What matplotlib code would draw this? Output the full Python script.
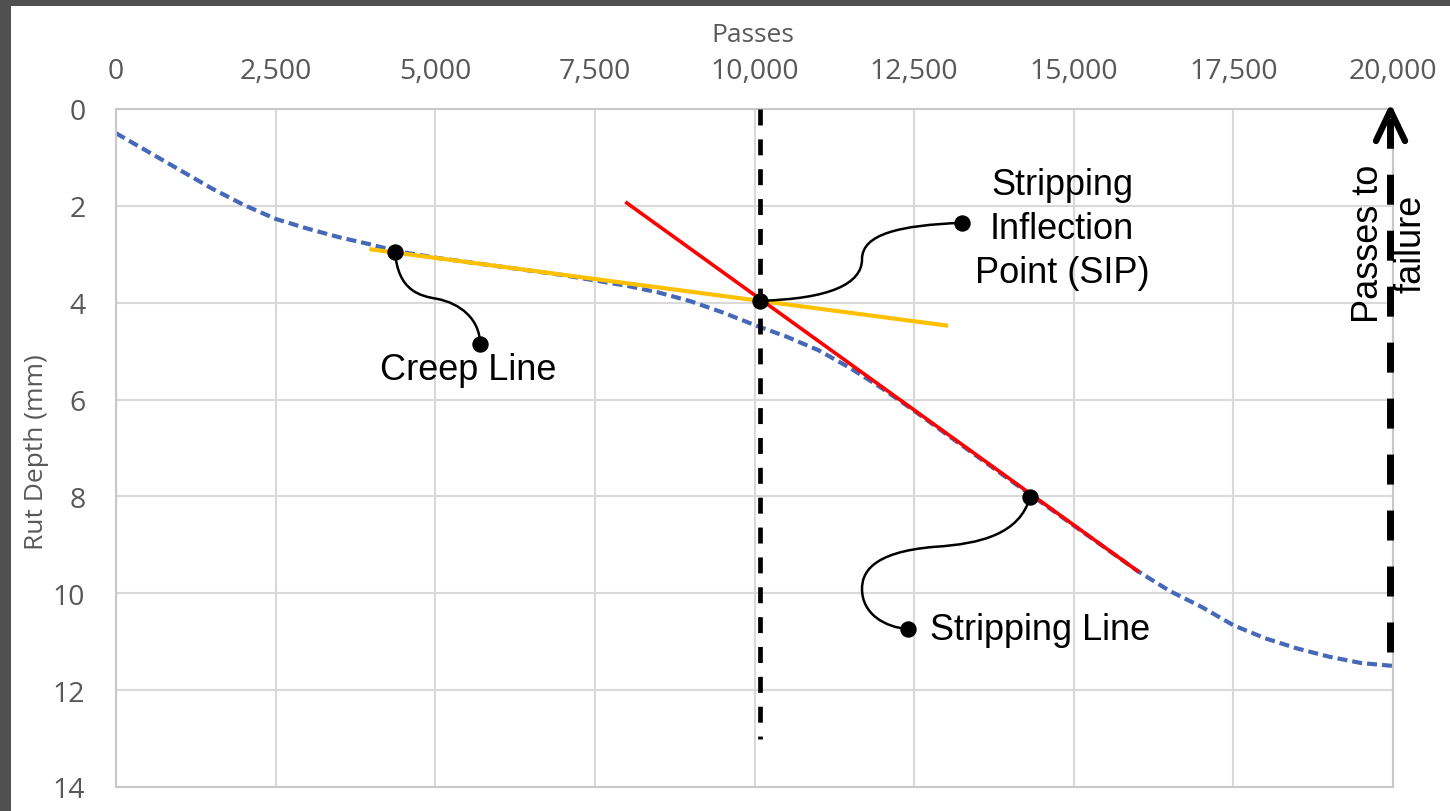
import matplotlib
matplotlib.use("Agg")
import matplotlib.pyplot as plt
from matplotlib.path import Path
from matplotlib.patches import PathPatch, Rectangle

plt.rcParams["lines.scale_dashes"] = False

# ---- data -------------------------------------------------------------
passes = [0, 500, 1000, 1500, 2000, 2500, 3000, 3500, 4000, 4370, 5000,
          6000, 7000, 8000, 8500, 9000, 9500, 10000, 10500, 11000, 11500,
          12000, 12500, 13000, 14000, 15000, 16000, 16500, 17000, 17500,
          18000, 18500, 19000, 19500, 20000]
rut_depth = [0.50, 0.88, 1.26, 1.64, 1.98, 2.27, 2.47, 2.65, 2.80, 2.93, 3.07,
             3.25, 3.43, 3.65, 3.79, 3.97, 4.20, 4.46, 4.70, 4.98, 5.35,
             5.77, 6.23, 6.71, 7.66, 8.60, 9.54, 9.95, 10.28, 10.66,
             10.93, 11.14, 11.31, 11.44, 11.50]

creep_x = [4000, 13000]
creep_y = [2.90, 4.47]
strip_x = [8000, 16000]
strip_y = [1.94, 9.54]

sip_passes = 10090
sip_depth = 3.96
failure_passes = 19960
failure_depth = 11.5

x_ticks = [0, 2500, 5000, 7500, 10000, 12500, 15000, 17500, 20000]
y_ticks = [0, 2, 4, 6, 8, 10, 12, 14]

TICK_GRAY = "#595959"
GRID_GRAY = "#d9d9d9"
ANNOT_FONT = "Liberation Sans"
AXIS_FONT = "Open Sans"

# ---- figure -----------------------------------------------------------
fig = plt.figure(figsize=(14.5, 8.12), dpi=100)
fig.patch.set_facecolor("white")
# dark frame along the top and left edges
fig.patches.append(Rectangle((0, 1 - 7 / 812), 1, 7 / 812, transform=fig.transFigure,
                             facecolor="#505050", edgecolor="none", zorder=10))
fig.patches.append(Rectangle((0, 0), 11 / 1450, 1, transform=fig.transFigure,
                             facecolor="#505050", edgecolor="none", zorder=10))

ax = fig.add_axes([116 / 1450, 1 - 788 / 812, 1277 / 1450, 678 / 812])
ax.set_xlim(0, 20000)
ax.set_ylim(14, 0)
ax.xaxis.tick_top()
ax.xaxis.set_label_position("top")
ax.set_xticks(x_ticks)
ax.set_xticklabels([f"{v:,}" for v in x_ticks])
ax.set_yticks(y_ticks)
ax.set_yticklabels([str(v) for v in y_ticks])
ax.tick_params(axis="x", length=0, pad=17, labelsize=20.5, labelcolor=TICK_GRAY)
ax.tick_params(axis="y", length=0, pad=22, labelsize=20.5, labelcolor=TICK_GRAY)
for lab in ax.get_xticklabels() + ax.get_yticklabels():
    lab.set_fontfamily(AXIS_FONT)
ax.grid(True, color=GRID_GRAY, lw=1.5)
ax.set_axisbelow(True)
for sp in ax.spines.values():
    sp.set_color("#c8c8c8")
    sp.set_linewidth(1.5)

ax.set_xlabel("Passes", fontsize=19, color=TICK_GRAY, fontfamily=AXIS_FONT)
ax.xaxis.set_label_coords(0.499, 1.1106)
ax.xaxis.label.set_va("center")
ax.set_ylabel("Rut Depth (mm)", fontsize=19, color=TICK_GRAY, fontfamily=AXIS_FONT)
ax.yaxis.set_label_coords(-0.0619, 0.495)
ax.yaxis.label.set_va("center")

# ---- series -----------------------------------------------------------
ax.plot(passes, rut_depth, color="#4668b8", lw=3.0, dashes=(7.2, 3.6), zorder=2)
ax.plot(creep_x, creep_y, color="#FFC000", lw=3.0, zorder=3)
ax.plot(strip_x, strip_y, color="#FF0000", lw=2.6, zorder=4)

# SIP vertical marker
ax.plot([sip_passes, sip_passes], [0, 13.0], color="black", lw=3.4,
        dashes=(11.5, 10), zorder=5, clip_on=False)

# passes-to-failure arrow
ax.plot([failure_passes, failure_passes], [11.21, 0.08], color="black", lw=5,
        dashes=(21.6, 18.7), zorder=5, clip_on=False)
ax.plot([19734, failure_passes, 20188], [0.66, 0.03, 0.66], color="black", lw=4.6,
        solid_capstyle="round", solid_joinstyle="round", zorder=5, clip_on=False)
ax.text(failure_passes - 10, 2.77, "Passes to\nfailure", rotation=90, ha="center",
        va="center", multialignment="center", fontsize=26, fontfamily=ANNOT_FONT,
        linespacing=1.3, zorder=4)

# ---- callouts ---------------------------------------------------------
def callout(verts):
    codes = [Path.MOVETO] + [Path.CURVE4] * (len(verts) - 1)
    ax.add_patch(PathPatch(Path(verts, codes), facecolor="none", edgecolor="black",
                           lw=1.8, zorder=6, clip_on=False))
    ax.plot([verts[0][0], verts[-1][0]], [verts[0][1], verts[-1][1]], "o",
            color="black", ms=10.8, zorder=7, clip_on=False)

callout([(4370, 2.95), (4417, 3.76), (4761, 3.86), (5027, 3.92),
         (5388, 4.01), (5701, 4.34), (5701, 4.85)])
ax.text(5513, 5.57, "Creep Line", ha="center", va="baseline", fontsize=26,
        fontfamily=ANNOT_FONT, zorder=6)

callout([(sip_passes, sip_depth), (11183, 3.92), (11684, 3.61), (11684, 3.10),
         (11684, 2.58), (12279, 2.40), (13250, 2.35)])
ax.text(14816, 3.57, "Stripping\nInflection\nPoint (SIP)", ha="center",
        va="baseline", multialignment="center", fontsize=26,
        fontfamily=ANNOT_FONT, linespacing=1.33, zorder=6)

callout([(14315, 8.01), (14158, 8.78), (13532, 8.98), (12827, 9.04),
         (11809, 9.15), (11684, 9.60), (11684, 9.91), (11684, 10.43),
         (12044, 10.70), (12404, 10.74)])
ax.text(12749, 10.94, "Stripping Line", ha="left", va="baseline", fontsize=26,
        fontfamily=ANNOT_FONT, zorder=6)

fig.savefig("out.png", dpi=100, facecolor="white")
